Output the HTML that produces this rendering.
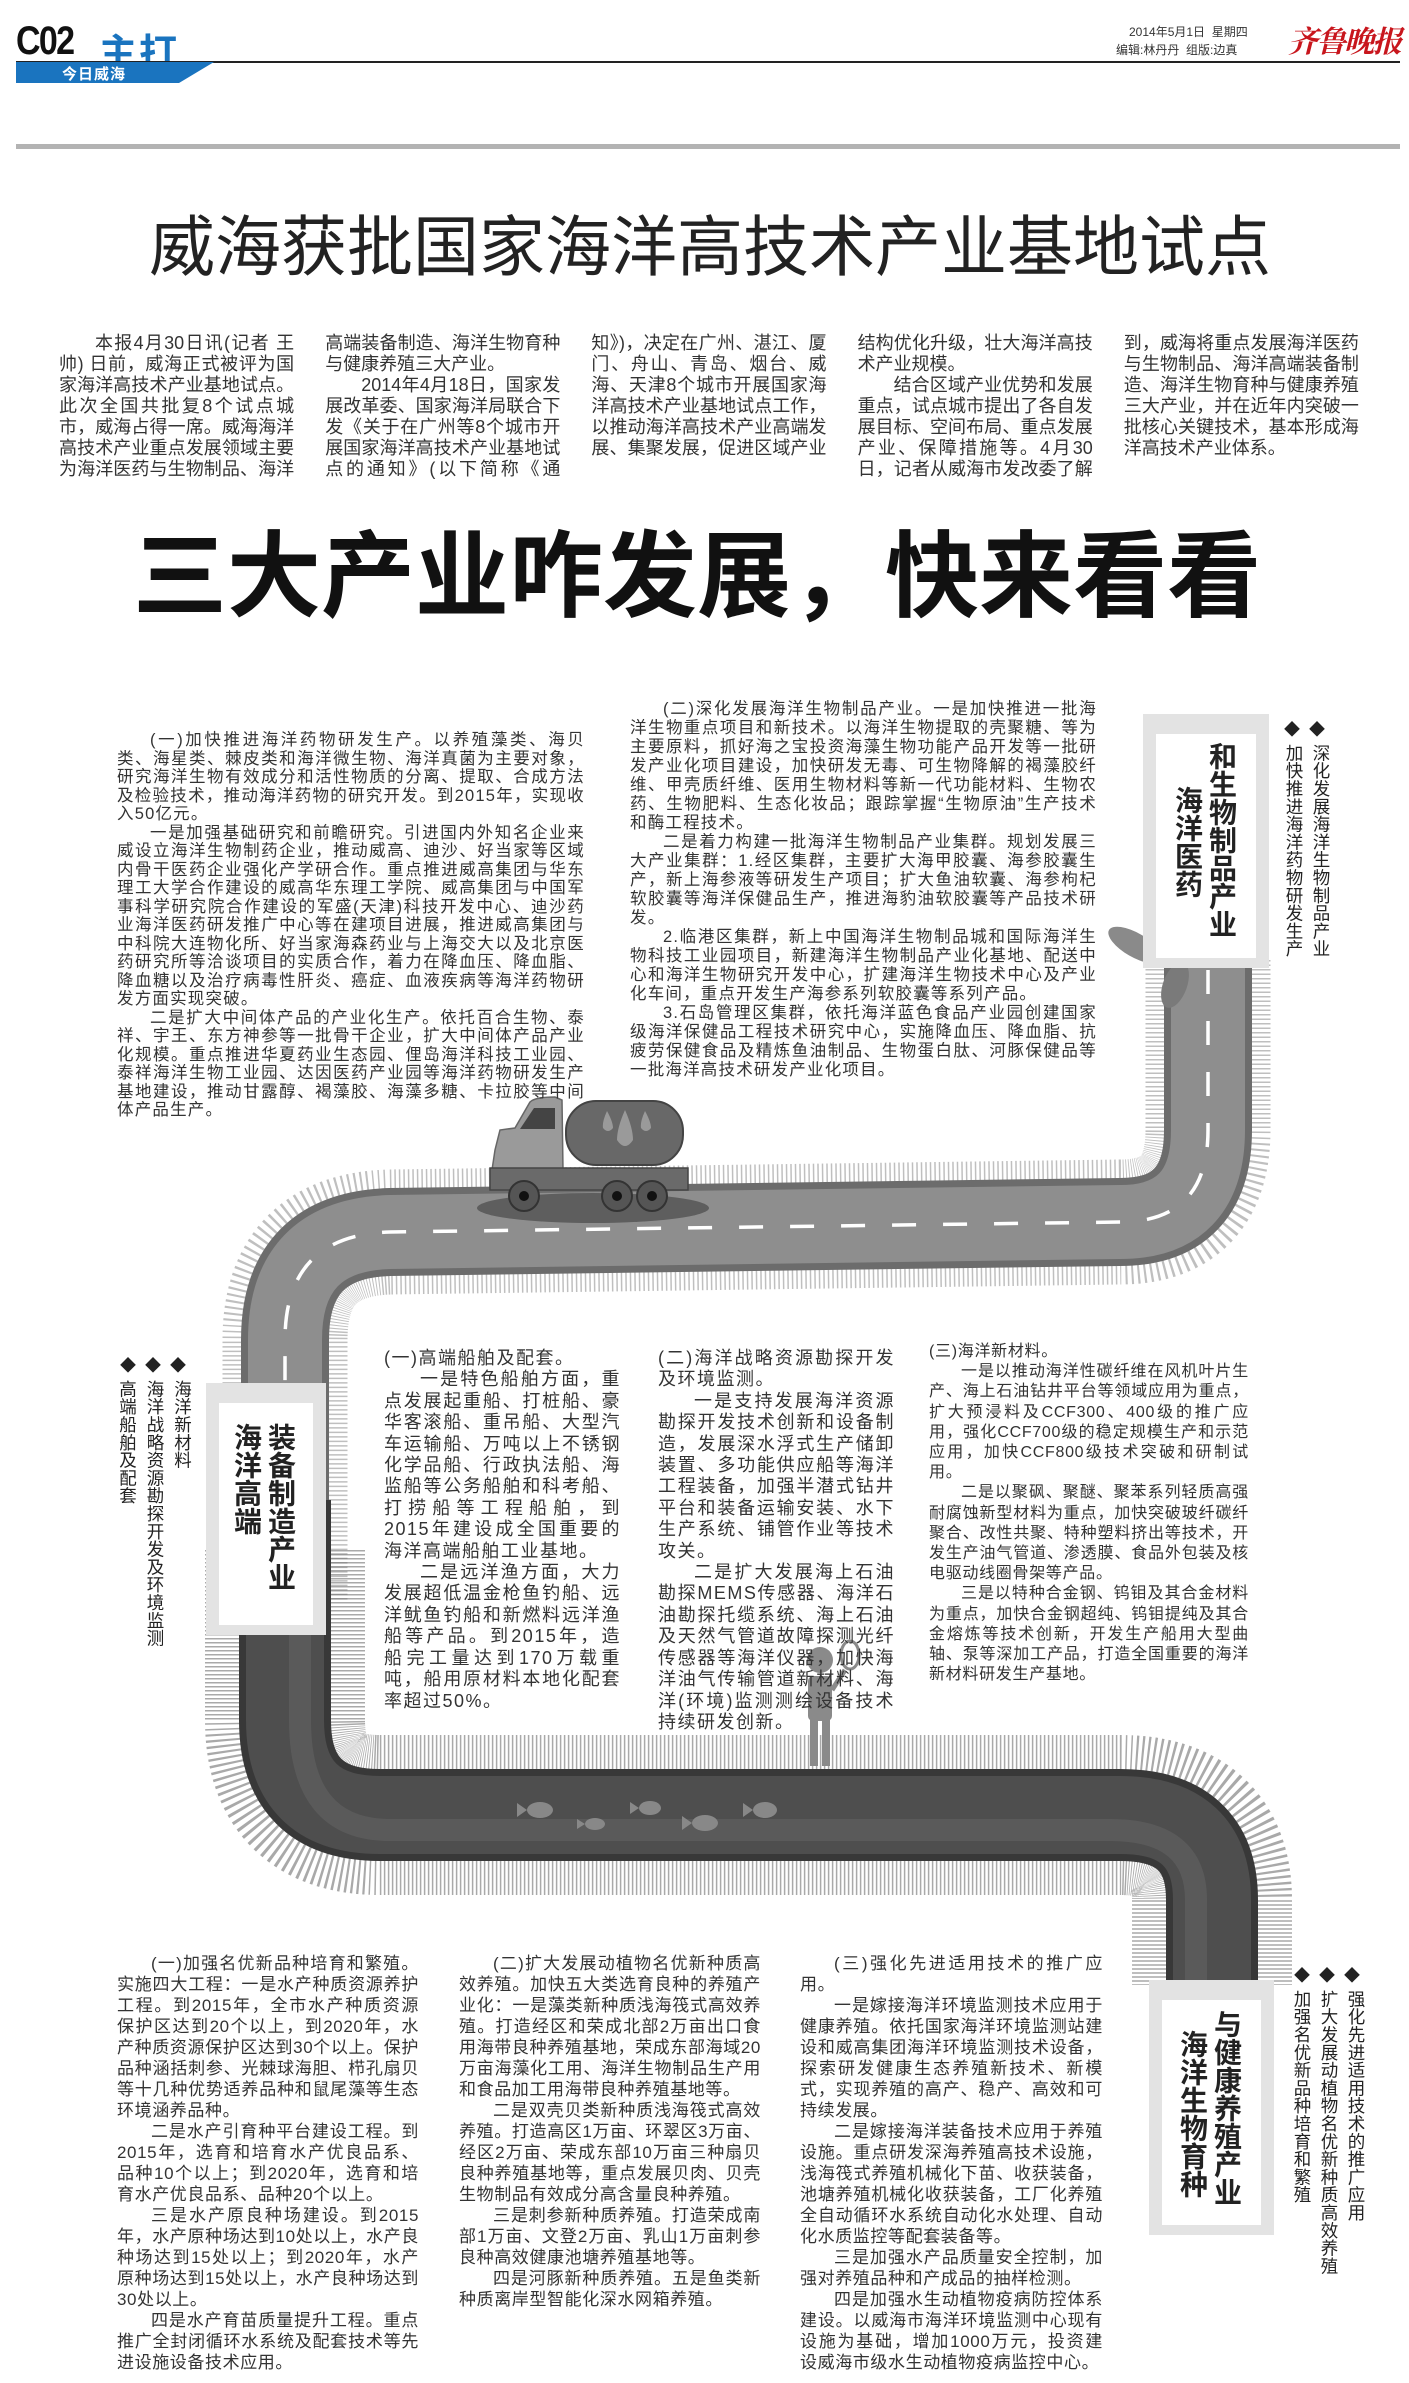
<!DOCTYPE html>
<html><head><meta charset="utf-8">
<style>
*{margin:0;padding:0;box-sizing:border-box}
body{width:1409px;height:2383px;background:#fff;position:relative;overflow:hidden;font-family:"Liberation Sans","Noto Sans CJK SC",sans-serif;color:#222}
.a{position:absolute}
.t{position:absolute;text-align:justify;color:#333}
.t p{text-indent:2em}
.box{position:absolute;background:#fff;border:13px solid #e3e3e3;border-top-width:20px;border-bottom-width:10px}
.box .c{writing-mode:vertical-rl;font-weight:bold;font-size:28px;line-height:34px;color:#222;position:absolute}
.side{writing-mode:vertical-rl;position:absolute;font-size:17.5px;line-height:27px;color:#222;letter-spacing:0.3px}
.dm{position:absolute;font-size:16px;color:#222;letter-spacing:9px}
</style></head><body>

<!-- header -->
<div class="a" style="left:16px;top:19px;font-size:40px;font-weight:bold;color:#111;letter-spacing:-2px;transform:scaleX(0.85);transform-origin:left">C02</div>
<div class="a" style="left:99px;top:22px;font-size:38px;font-weight:bold;color:#1a74bf;letter-spacing:2px">主打</div>
<div class="a" style="left:16px;top:61px;width:1384px;height:2px;background:#222"></div>
<svg class="a" style="left:16px;top:62px" width="200" height="21"><polygon points="0,0 198,0 163,21 0,21" fill="#1a74bf"/></svg>
<div class="a" style="left:62px;top:63px;font-size:15px;font-weight:bold;color:#fff;letter-spacing:1px">今日威海</div>
<div class="a" style="left:1129px;top:23px;font-size:12px;color:#333">2014年5月1日 &nbsp;星期四</div>
<div class="a" style="left:1116px;top:41px;font-size:12px;color:#333">编辑:林丹丹 &nbsp;组版:边真</div>
<div class="a" style="left:1288px;top:17px;font-size:30px;font-weight:bold;color:#c8161d;font-family:'Noto Serif CJK SC',serif;font-style:italic;letter-spacing:-2px">齐鲁晚报</div>
<div class="a" style="left:16px;top:144px;width:1384px;height:5px;background:#b3b3b3"></div>

<!-- title -->
<div class="a" style="left:149px;top:207px;font-size:66px;line-height:80px;color:#222;white-space:nowrap">威海获批国家海洋高技术产业基地试点</div>

<!-- intro -->
<div class="t" style="left:59px;top:333px;width:1300px;height:150px;overflow:hidden;column-count:5;column-gap:31px;column-fill:auto;font-size:18px;line-height:21px">
<p>本报4月30日讯(记者 王帅) 日前，威海正式被评为国家海洋高技术产业基地试点。此次全国共批复8个试点城市，威海占得一席。威海海洋高技术产业重点发展领域主要为海洋医药与生物制品、海洋高端装备制造、海洋生物育种与健康养殖三大产业。</p>
<p>2014年4月18日，国家发展改革委、国家海洋局联合下发《关于在广州等8个城市开展国家海洋高技术产业基地试点的通知》(以下简称《通知》)，决定在广州、湛江、厦门、舟山、青岛、烟台、威海、天津8个城市开展国家海洋高技术产业基地试点工作，以推动海洋高技术产业高端发展、集聚发展，促进区域产业结构优化升级，壮大海洋高技术产业规模。</p>
<p>结合区域产业优势和发展重点，试点城市提出了各自发展目标、空间布局、重点发展产业、保障措施等。4月30日，记者从威海市发改委了解到，威海将重点发展海洋医药与生物制品、海洋高端装备制造、海洋生物育种与健康养殖三大产业，并在近年内突破一批核心关键技术，基本形成海洋高技术产业体系。</p>
<p>威海市发改委相关负责人介绍，国家发改委和国家海洋局将出台政策，错位支持各试点城市产业发展，这将为威海海洋产业发展带来新契机。</p>
</div>

<!-- big title -->
<div class="a" style="left:133px;top:522px;font-size:94px;line-height:110px;font-weight:bold;color:#111;white-space:nowrap">三大产业咋发展，快来看看</div>

<!-- road -->
<svg class="a" style="left:0;top:0" width="1409" height="2383">
<path d="M1208,960 L1208,1130 Q1208,1222 1120,1222 L390,1232 Q285,1235 285,1340 L285,1600" fill="none" stroke="#8a8a8a" stroke-width="125" stroke-dasharray="1.5 3" opacity="0.55"/>
<path d="M285,1550 L285,1720 Q285,1815 380,1815 L1120,1815 Q1212,1815 1212,1900 L1212,1985" fill="none" stroke="#707070" stroke-width="160" stroke-dasharray="1.5 2.5" opacity="0.6"/>
<path d="M1208,960 L1208,1130 Q1208,1222 1120,1222 L390,1232 Q285,1235 285,1340 L285,1560" fill="none" stroke="#6c6c6c" stroke-width="88"/>
<path d="M1208,960 L1208,1130 Q1208,1222 1120,1222 L390,1232 Q285,1235 285,1340 L285,1560" fill="none" stroke="#8e8e8e" stroke-width="74"/>
<path d="M1208,970 L1208,1130 Q1208,1222 1120,1222 L390,1232 Q285,1235 285,1340 L285,1500" fill="none" stroke="#fff" stroke-width="3.5" stroke-dasharray="24 27"/>
<path d="M285,1500 L285,1720 Q285,1815 380,1815 L1120,1815 Q1212,1815 1212,1900 L1212,1985" fill="none" stroke="#383838" stroke-width="92"/>
<path d="M285,1500 L285,1720 Q285,1815 380,1815 L1120,1815 Q1212,1815 1212,1900 L1212,1985" fill="none" stroke="#4e4e4e" stroke-width="78"/>
<path d="M300,1520 L300,1720 Q300,1830 390,1830 L1110,1830 Q1196,1830 1196,1900 L1196,1985" fill="none" stroke="#5e5e5e" stroke-width="22" opacity="0.8"/>
<g fill="#888">
<ellipse cx="540" cy="1810" rx="13" ry="8"/><polygon points="527,1810 517,1803 517,1817"/>
<ellipse cx="595" cy="1824" rx="10" ry="6"/><polygon points="585,1824 577,1819 577,1829"/>
<ellipse cx="650" cy="1808" rx="11" ry="7"/><polygon points="639,1808 630,1802 630,1814"/>
<ellipse cx="705" cy="1823" rx="13" ry="8"/><polygon points="692,1823 682,1816 682,1830"/>
<ellipse cx="765" cy="1810" rx="12" ry="8"/><polygon points="753,1810 743,1803 743,1817"/>
</g>
<ellipse cx="1135" cy="945" rx="30" ry="12" fill="#8a8a8a" transform="rotate(30 1135 945)"/>
<ellipse cx="1175" cy="985" rx="12" ry="24" fill="#7a7a7a" transform="rotate(20 1175 985)"/>
<ellipse cx="593" cy="1208" rx="116" ry="15" fill="#5e5e5e"/>
<path d="M495,1150 L500,1130 L515,1128 L530,1102 Q535,1097 555,1097 L562,1100 L563,1170 L492,1170 Z" fill="#9a9a9a" stroke="#666" stroke-width="1.5"/>
<path d="M520,1129 L534,1108 L555,1108 L555,1129 Z" fill="#444"/>
<rect x="566" y="1101" width="117" height="64" rx="30" fill="#686868" stroke="#444" stroke-width="2"/>
<path d="M625,1110 Q617,1128 617,1140 Q625,1152 633,1140 Q633,1128 625,1110Z M607,1111 Q602,1122 603,1128 Q608,1134 613,1128 Q613,1122 607,1111Z M645,1111 Q640,1122 641,1128 Q646,1134 651,1128 Q651,1122 645,1111Z" fill="#9a9a9a"/>
<rect x="490" y="1168" width="198" height="22" fill="#6a6a6a" stroke="#444" stroke-width="1.5"/>
<g fill="#555" stroke="#333" stroke-width="2"><circle cx="524" cy="1196" r="15"/><circle cx="617" cy="1196" r="15"/><circle cx="652" cy="1196" r="15"/></g>
<g fill="#111"><circle cx="524" cy="1196" r="5"/><circle cx="617" cy="1196" r="5"/><circle cx="652" cy="1196" r="5"/></g>
<g fill="#8a8a8a">
<circle cx="820" cy="1660" r="13"/>
<rect x="808" y="1676" width="24" height="45" rx="5"/>
<rect x="810" y="1718" width="8" height="48"/><rect x="822" y="1718" width="8" height="48"/>
<line x1="832" y1="1690" x2="845" y2="1670" stroke="#8a8a8a" stroke-width="5"/>
<ellipse cx="850" cy="1655" rx="9" ry="14" fill="none" stroke="#8a8a8a" stroke-width="3"/>
</g>
</svg>

<!-- section 1 text -->
<div class="t" style="left:117px;top:731px;width:468px;font-size:16.5px;letter-spacing:1.2px;line-height:18.5px">
<p>(一)加快推进海洋药物研发生产。以养殖藻类、海贝类、海星类、棘皮类和海洋微生物、海洋真菌为主要对象，研究海洋生物有效成分和活性物质的分离、提取、合成方法及检验技术，推动海洋药物的研究开发。到2015年，实现收入50亿元。</p>
<p>一是加强基础研究和前瞻研究。引进国内外知名企业来威设立海洋生物制药企业，推动威高、迪沙、好当家等区域内骨干医药企业强化产学研合作。重点推进威高集团与华东理工大学合作建设的威高华东理工学院、威高集团与中国军事科学研究院合作建设的军盛(天津)科技开发中心、迪沙药业海洋医药研发推广中心等在建项目进展，推进威高集团与中科院大连物化所、好当家海森药业与上海交大以及北京医药研究所等洽谈项目的实质合作，着力在降血压、降血脂、降血糖以及治疗病毒性肝炎、癌症、血液疾病等海洋药物研发方面实现突破。</p>
<p>二是扩大中间体产品的产业化生产。依托百合生物、泰祥、宇王、东方神参等一批骨干企业，扩大中间体产品产业化规模。重点推进华夏药业生态园、俚岛海洋科技工业园、泰祥海洋生物工业园、达因医药产业园等海洋药物研发生产基地建设，推动甘露醇、褐藻胶、海藻多糖、卡拉胶等中间体产品生产。</p>
</div>
<div class="t" style="left:630px;top:700px;width:467px;font-size:16.5px;letter-spacing:1.2px;line-height:19px">
<p>(二)深化发展海洋生物制品产业。一是加快推进一批海洋生物重点项目和新技术。以海洋生物提取的壳聚糖、等为主要原料，抓好海之宝投资海藻生物功能产品开发等一批研发产业化项目建设，加快研发无毒、可生物降解的褐藻胶纤维、甲壳质纤维、医用生物材料等新一代功能材料、生物农药、生物肥料、生态化妆品；跟踪掌握“生物原油”生产技术和酶工程技术。</p>
<p>二是着力构建一批海洋生物制品产业集群。规划发展三大产业集群：1.经区集群，主要扩大海甲胶囊、海参胶囊生产，新上海参液等研发生产项目；扩大鱼油软囊、海参枸杞软胶囊等海洋保健品生产，推进海豹油软胶囊等产品技术研发。</p>
<p>2.临港区集群，新上中国海洋生物制品城和国际海洋生物科技工业园项目，新建海洋生物制品产业化基地、配送中心和海洋生物研究开发中心，扩建海洋生物技术中心及产业化车间，重点开发生产海参系列软胶囊等系列产品。</p>
<p>3.石岛管理区集群，依托海洋蓝色食品产业园创建国家级海洋保健品工程技术研究中心，实施降血压、降血脂、抗疲劳保健食品及精炼鱼油制品、生物蛋白肽、河豚保健品等一批海洋高技术研发产业化项目。</p>
</div>

<!-- box 1 -->
<div class="box" style="left:1143px;top:714px;width:126px;height:254px">
<div class="c" style="right:18px;top:8px">和生物制品产业</div>
<div class="c" style="right:52px;top:52px">海洋医药</div>
</div>
<div class="dm" style="left:1284px;top:716px">◆◆</div>
<div class="side" style="left:1280px;top:744px;height:230px">深化发展海洋生物制品产业加快推进海洋药物研发生产</div>

<!-- box 2 -->
<div class="box" style="left:206px;top:1383px;width:120px;height:252px">
<div class="c" style="right:16px;top:20px">装备制造产业</div>
<div class="c" style="right:50px;top:20px">海洋高端</div>
</div>
<div class="dm" style="left:120px;top:1352px">◆◆◆</div>
<div class="side" style="left:113px;top:1380px;height:280px;line-height:27.5px">海洋新材料<br>海洋战略资源勘探开发及环境监测<br>高端船舶及配套</div>

<!-- section 2 text -->
<div class="t" style="left:384px;top:1348px;width:237px;font-size:18px;letter-spacing:1.5px;line-height:21.4px">
<div>(一)高端船舶及配套。</div>
<p>一是特色船舶方面，重点发展起重船、打桩船、豪华客滚船、重吊船、大型汽车运输船、万吨以上不锈钢化学品船、行政执法船、海监船等公务船舶和科考船、打捞船等工程船舶，到2015年建设成全国重要的海洋高端船舶工业基地。</p>
<p>二是远洋渔方面，大力发展超低温金枪鱼钓船、远洋鱿鱼钓船和新燃料远洋渔船等产品。到2015年，造船完工量达到170万载重吨，船用原材料本地化配套率超过50%。</p>
</div>
<div class="t" style="left:658px;top:1348px;width:237px;font-size:18px;letter-spacing:1.5px;line-height:21.4px">
<div>(二)海洋战略资源勘探开发及环境监测。</div>
<p>一是支持发展海洋资源勘探开发技术创新和设备制造，发展深水浮式生产储卸装置、多功能供应船等海洋工程装备，加强半潜式钻井平台和装备运输安装、水下生产系统、铺管作业等技术攻关。</p>
<p>二是扩大发展海上石油勘探MEMS传感器、海洋石油勘探托缆系统、海上石油及天然气管道故障探测光纤传感器等海洋仪器，加快海洋油气传输管道新材料、海洋(环境)监测测绘设备技术持续研发创新。</p>
</div>
<div class="t" style="left:929px;top:1342px;width:320px;font-size:16px;letter-spacing:0.7px;line-height:20.2px">
<div>(三)海洋新材料。</div>
<p>一是以推动海洋性碳纤维在风机叶片生产、海上石油钻井平台等领域应用为重点，扩大预浸料及CCF300、400级的推广应用，强化CCF700级的稳定规模生产和示范应用，加快CCF800级技术突破和研制试用。</p>
<p>二是以聚砜、聚醚、聚苯系列轻质高强耐腐蚀新型材料为重点，加快突破玻纤碳纤聚合、改性共聚、特种塑料挤出等技术，开发生产油气管道、渗透膜、食品外包装及核电驱动线圈骨架等产品。</p>
<p>三是以特种合金钢、钨钼及其合金材料为重点，加快合金钢超纯、钨钼提纯及其合金熔炼等技术创新，开发生产船用大型曲轴、泵等深加工产品，打造全国重要的海洋新材料研发生产基地。</p>
</div>

<!-- bottom text -->
<div class="t" style="left:117px;top:1953px;width:302px;font-size:17px;letter-spacing:0.6px;line-height:21px">
<p>(一)加强名优新品种培育和繁殖。实施四大工程：一是水产种质资源养护工程。到2015年，全市水产种质资源保护区达到20个以上，到2020年，水产种质资源保护区达到30个以上。保护品种涵括刺参、光棘球海胆、栉孔扇贝等十几种优势适养品种和鼠尾藻等生态环境涵养品种。</p>
<p>二是水产引育种平台建设工程。到2015年，选育和培育水产优良品系、品种10个以上；到2020年，选育和培育水产优良品系、品种20个以上。</p>
<p>三是水产原良种场建设。到2015年，水产原种场达到10处以上，水产良种场达到15处以上；到2020年，水产原种场达到15处以上，水产良种场达到30处以上。</p>
<p>四是水产育苗质量提升工程。重点推广全封闭循环水系统及配套技术等先进设施设备技术应用。</p>
</div>
<div class="t" style="left:459px;top:1953px;width:302px;font-size:17px;letter-spacing:0.6px;line-height:21px">
<p>(二)扩大发展动植物名优新种质高效养殖。加快五大类选育良种的养殖产业化：一是藻类新种质浅海筏式高效养殖。打造经区和荣成北部2万亩出口食用海带良种养殖基地，荣成东部海域20万亩海藻化工用、海洋生物制品生产用和食品加工用海带良种养殖基地等。</p>
<p>二是双壳贝类新种质浅海筏式高效养殖。打造高区1万亩、环翠区3万亩、经区2万亩、荣成东部10万亩三种扇贝良种养殖基地等，重点发展贝肉、贝壳生物制品有效成分高含量良种养殖。</p>
<p>三是刺参新种质养殖。打造荣成南部1万亩、文登2万亩、乳山1万亩刺参良种高效健康池塘养殖基地等。</p>
<p>四是河豚新种质养殖。五是鱼类新种质离岸型智能化深水网箱养殖。</p>
</div>
<div class="t" style="left:800px;top:1953px;width:303px;font-size:17px;letter-spacing:0.6px;line-height:21px">
<p>(三)强化先进适用技术的推广应用。</p>
<p>一是嫁接海洋环境监测技术应用于健康养殖。依托国家海洋环境监测站建设和威高集团海洋环境监测技术设备，探索研发健康生态养殖新技术、新模式，实现养殖的高产、稳产、高效和可持续发展。</p>
<p>二是嫁接海洋装备技术应用于养殖设施。重点研发深海养殖高技术设施，浅海筏式养殖机械化下苗、收获装备，池塘养殖机械化收获装备，工厂化养殖全自动循环水系统自动化水处理、自动化水质监控等配套装备等。</p>
<p>三是加强水产品质量安全控制，加强对养殖品种和产成品的抽样检测。</p>
<p>四是加强水生动植物疫病防控体系建设。以威海市海洋环境监测中心现有设施为基础，增加1000万元，投资建设威海市级水生动植物疫病监控中心。</p>
</div>

<!-- box 3 -->
<div class="box" style="left:1149px;top:1980px;width:125px;height:255px">
<div class="c" style="right:18px;top:10px">与健康养殖产业</div>
<div class="c" style="right:52px;top:30px">海洋生物育种</div>
</div>
<div class="dm" style="left:1294px;top:1962px">◆◆◆</div>
<div class="side" style="left:1288px;top:1990px;height:310px">强化先进适用技术的推广应用<br>扩大发展动植物名优新种质高效养殖<br>加强名优新品种培育和繁殖</div>

</body></html>
